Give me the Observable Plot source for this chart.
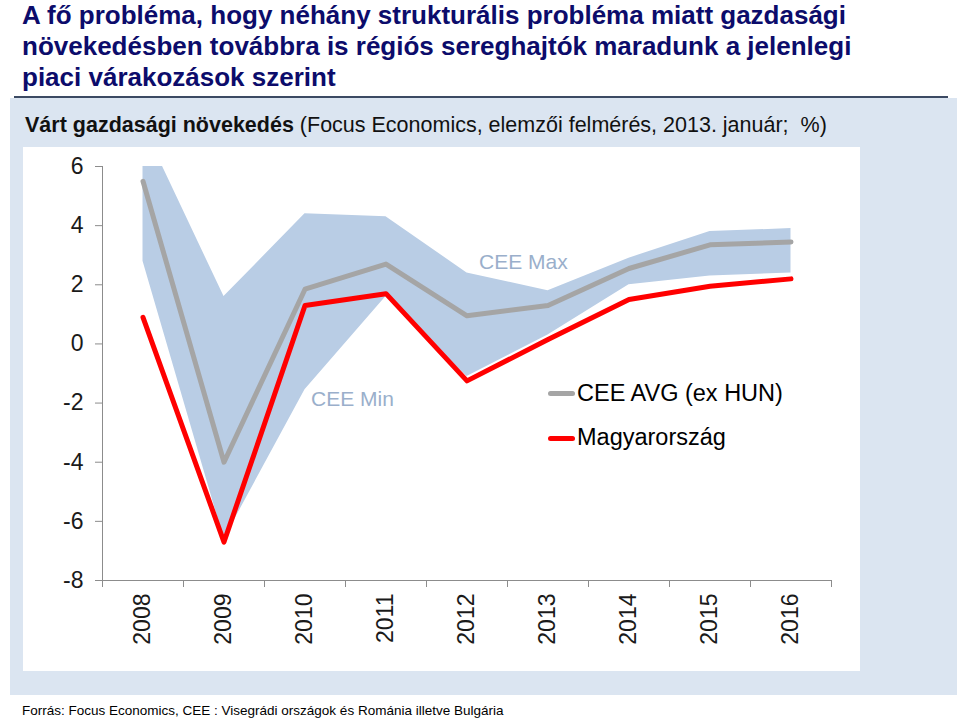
<!DOCTYPE html>
<html>
<head>
<meta charset="utf-8">
<script src="https://cdn.jsdelivr.net/npm/d3@7"></script>
<script src="https://cdn.jsdelivr.net/npm/@observablehq/plot@0.6"></script>
<style>
  html, body { margin: 0; padding: 0; }
  body { width: 960px; height: 720px; position: relative; background: #fff; overflow: hidden;
         font-family: "Liberation Sans", Arial, sans-serif; }
  #title { position: absolute; left: 22px; top: 0; font-weight: bold; font-size: 26px; line-height: 31px; color: #0c0c6b; white-space: nowrap; }
  #rule { position: absolute; left: 14px; top: 96px; width: 934px; height: 1.5px; background: #3c4a63; }
  #panel { position: absolute; left: 10px; top: 98px; width: 947px; height: 597px; background: #dbe5f1; }
  #subtitle { position: absolute; left: 25px; top: 113px; font-size: 21.5px; line-height: 24px; color: #111; white-space: nowrap; }
  #chart { position: absolute; left: 23px; top: 147px; width: 837px; height: 524px; background: #fff; }
  #footer { position: absolute; left: 22px; top: 703px; font-size: 13.5px; line-height: 16px; color: #000; white-space: nowrap; }
  .leg { position: absolute; font-size: 23.5px; line-height: 26px; color: #000; white-space: nowrap; }
  .sw { position: absolute; width: 27px; height: 5px; border-radius: 2.5px; }
</style>
</head>
<body>
<div id="title">A fő probléma, hogy néhány strukturális probléma miatt gazdasági<br>növekedésben továbbra is régiós sereghajtók maradunk a jelenlegi<br>piaci várakozások szerint</div>
<div id="rule"></div>
<div id="panel"></div>
<div id="subtitle"><b>Várt gazdasági növekedés</b> (Focus Economics, elemzői felmérés, 2013. január;&nbsp; %)</div>
<div id="chart"></div>
<div class="sw" style="left:548px; top:391px; background:#a5a5a5"></div>
<div class="leg" style="left:577px; top:380px">CEE AVG (ex HUN)</div>
<div class="sw" style="left:548px; top:436px; background:#ff0000"></div>
<div class="leg" style="left:577px; top:424px">Magyarország</div>
<div id="footer">Forrás: Focus Economics, CEE : Visegrádi országok és Románia illetve Bulgária</div>
<script>
const years   = [2008, 2009, 2010, 2011, 2012, 2013, 2014, 2015, 2016];
const hungary = [0.9, -6.7, 1.3, 1.7, -1.25, 0.15, 1.5, 1.95, 2.2];
const ceeAvg  = [5.5, -4.0, 1.85, 2.7, 0.95, 1.3, 2.55, 3.35, 3.45];
const ceeMax  = [7.4, 1.6, 4.4, 4.3, 2.4, 1.8, 2.9, 3.8, 3.9];
const ceeMin  = [2.8, -6.6, -1.55, 1.6, -1.1, 0.3, 2.0, 2.3, 2.4];
const yTicks  = [-8, -6, -4, -2, 0, 2, 4, 6];

const rows = years.map((year, i) => ({year, hun: hungary[i], avg: ceeAvg[i], max: ceeMax[i], min: ceeMin[i]}));
const x0 = d3.min(years) - 0.5, x1 = d3.max(years) + 0.5;
const bounds = d3.range(x0, x1 + 0.01, 1);
const yMin = d3.min(yTicks), yMax = d3.max(yTicks);

const maxLabel = [{year: 2012, v: ceeMax[years.indexOf(2012)], t: "CEE Max"}];
const minLabel = [{year: 2010, v: ceeMin[years.indexOf(2010)], t: "CEE Min"}];

const chart = Plot.plot({
  width: 837, height: 524,
  marginLeft: 79, marginRight: 29, marginTop: 19, marginBottom: 91,
  style: {background: "#fff", fontFamily: "'Liberation Sans', Arial, sans-serif", overflow: "visible"},
  x: {type: "linear", domain: [x0, x1], label: null},
  y: {domain: [yMin, yMax], label: null},
  marks: [
    Plot.areaY(rows, {x: "year", y1: "min", y2: "max", fill: "#b9cde5", clip: "frame"}),
    Plot.lineY(rows, {x: "year", y: "avg", stroke: "#a5a5a5", strokeWidth: 5, strokeLinejoin: "round", strokeLinecap: "round"}),
    Plot.lineY(rows, {x: "year", y: "hun", stroke: "#ff0000", strokeWidth: 5, strokeLinejoin: "round", strokeLinecap: "round"}),
    Plot.text(maxLabel, {x: "year", y: "v", text: "t", textAnchor: "start", dx: 12, dy: -11, fill: "#9aafcb", fontSize: 21}),
    Plot.text(minLabel, {x: "year", y: "v", text: "t", textAnchor: "start", dx: 6, dy: 10, fill: "#9aafcb", fontSize: 21}),
    Plot.ruleX([x0], {stroke: "#8c8c8c", strokeWidth: 1}),
    Plot.ruleY([yMin], {stroke: "#8c8c8c", strokeWidth: 1}),
    Plot.axisY({ticks: yTicks, tickSize: 7, tickPadding: 12, fontSize: 23, stroke: "#8c8c8c", color: "#1a1a1a", tickFormat: d => String(d), label: null}),
    Plot.axisX({ticks: years, tickSize: 0, tickPadding: 13, tickRotate: -90, fontSize: 23, color: "#1a1a1a", tickFormat: d => String(d), label: null}),
    Plot.axisX({ticks: bounds, tickSize: 7, stroke: "#8c8c8c", tickFormat: () => "", label: null})
  ]
});
document.getElementById("chart").appendChild(chart);
</script>
</body>
</html>
